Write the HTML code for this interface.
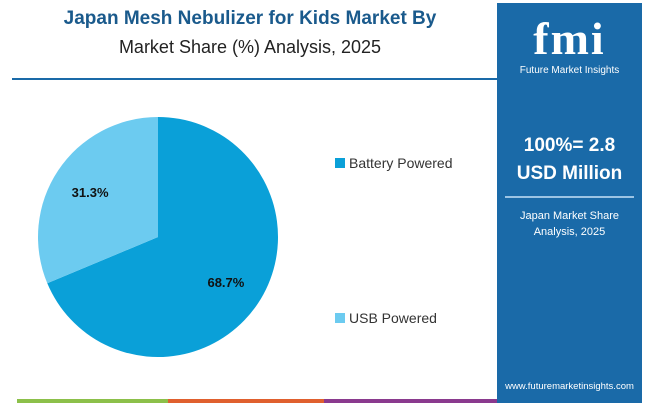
<!DOCTYPE html>
<html><head><meta charset="utf-8"><style>
body{margin:0;width:650px;height:405px;background:#fff;font-family:"Liberation Sans",sans-serif;position:relative;overflow:hidden}
.abs{position:absolute}
</style></head><body>
<div class="abs" style="left:0;width:500px;top:8px;text-align:center;font-size:19px;font-weight:bold;color:#1a5a8c">Japan Mesh Nebulizer for Kids Market By</div>
<div class="abs" style="left:0;width:500px;top:37px;text-align:center;font-size:18px;color:#222">Market Share (%) Analysis, 2025</div>
<div class="abs" style="left:12px;top:78px;width:486px;height:2px;background:#1a6aa8"></div>
<svg class="abs" style="left:0;top:0" width="500" height="405" id="pie"></svg>
<div class="abs" style="left:335px;top:155px;font-size:14px;color:#333"><span style="display:inline-block;width:10px;height:10px;background:#0aa0d8;margin-right:4px"></span>Battery Powered</div>
<div class="abs" style="left:335px;top:310px;font-size:14px;color:#333"><span style="display:inline-block;width:10px;height:10px;background:#6ccbf0;margin-right:4px"></span>USB Powered</div>
<div class="abs" style="left:17px;top:399px;width:151px;height:4px;background:#8cc04a"></div>
<div class="abs" style="left:168px;top:399px;width:156px;height:4px;background:#e0602e"></div>
<div class="abs" style="left:324px;top:399px;width:174px;height:4px;background:#8a3a8e"></div>
<div class="abs" style="left:497px;top:3px;width:145px;height:400px;background:#1a6aa8;color:#fff;text-align:center">
 <div style="margin-top:12px;font-size:46px;font-weight:bold;font-family:'Liberation Serif',serif;letter-spacing:2px;line-height:48px">fmi</div>
 <div style="font-size:10px;margin-top:2px">Future Market Insights</div>
 <div style="margin-top:56px;font-size:19px;font-weight:bold;line-height:28px">100%= 2.8<br>USD Million</div>
 <div style="margin:8px 8px 0;height:2px;background:#9cc4e4"></div>
 <div style="margin-top:10px;font-size:11px;line-height:16px">Japan Market Share<br>Analysis, 2025</div>
 <div style="position:absolute;bottom:11px;width:100%;font-size:9.5px">www.futuremarketinsights.com</div>
</div>
<script>
const categories=["Battery Powered","USB Powered"];
const shares=[68.7,31.3];
const colors=["#0aa0d8","#6ccbf0"];
const svg=document.getElementById('pie');
const cx=158,cy=237,r=120;
const total=shares.reduce((a,b)=>a+b,0);
let a0=-Math.PI/2;
const ns="http://www.w3.org/2000/svg";
shares.forEach((v,i)=>{
 const a1=a0+v/total*2*Math.PI;
 const large=(a1-a0)>Math.PI?1:0;
 const p=document.createElementNS(ns,'path');
 p.setAttribute('d',`M${cx},${cy} L${cx+r*Math.cos(a0)},${cy+r*Math.sin(a0)} A${r},${r} 0 ${large} 1 ${cx+r*Math.cos(a1)},${cy+r*Math.sin(a1)} Z`);
 p.setAttribute('fill',colors[i]);
 
 
 svg.appendChild(p);
 const am=(a0+a1)/2, lr=r*0.68;
 const t=document.createElementNS(ns,'text');
 t.setAttribute('x',cx+lr*Math.cos(am));t.setAttribute('y',cy+lr*Math.sin(am)+5);
 t.setAttribute('text-anchor','middle');t.setAttribute('font-size','13');t.setAttribute('font-weight','bold');t.setAttribute('fill','#111');
 t.textContent=v.toFixed(1)+'%';
 
 
 svg.appendChild(t);
 a0=a1;
});
</script>
</body></html>
